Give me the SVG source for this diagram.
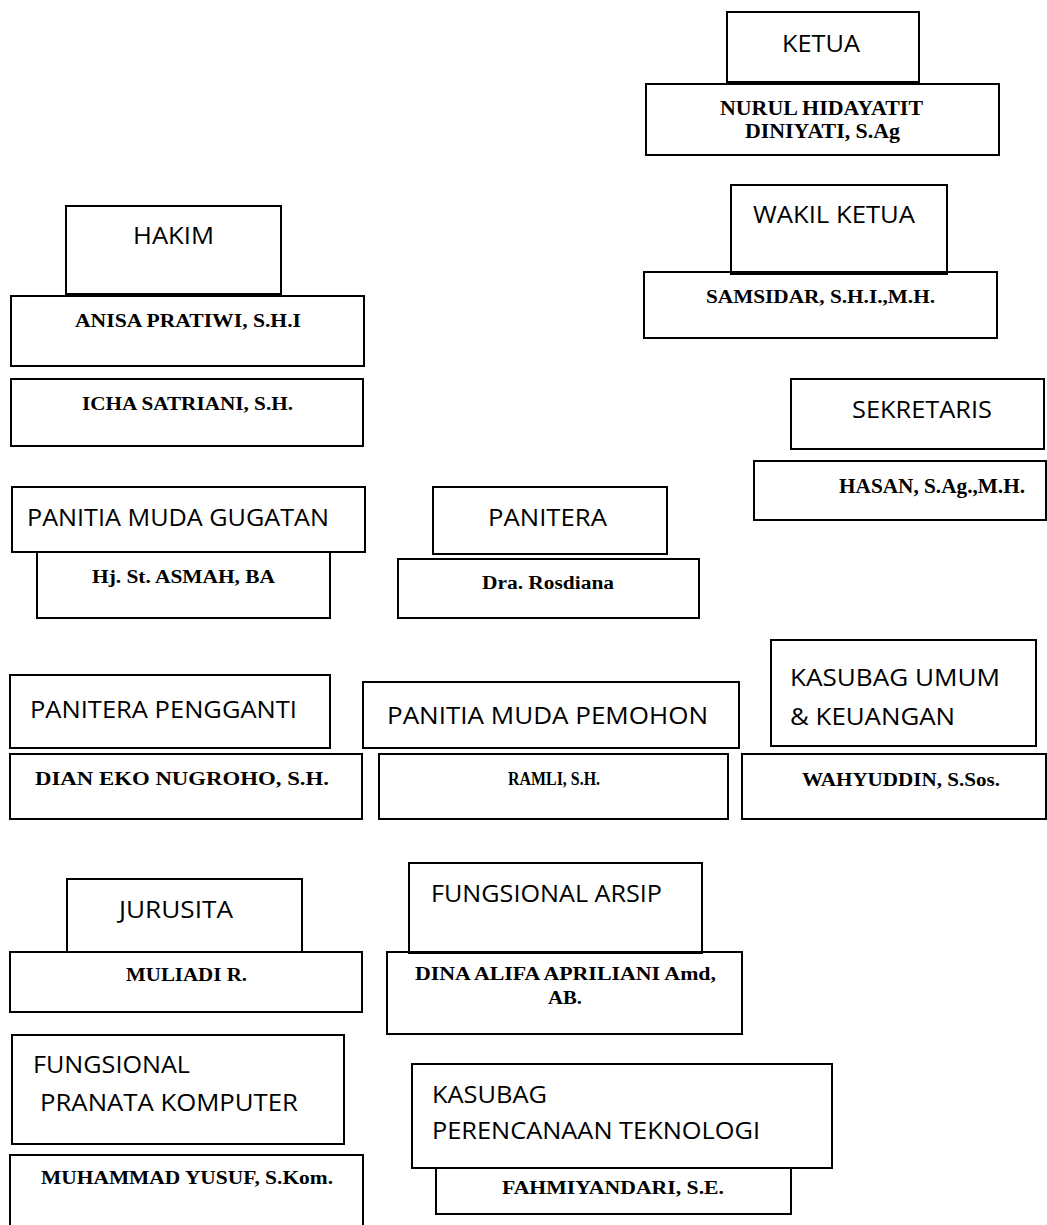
<svg xmlns="http://www.w3.org/2000/svg" width="1047" height="1225" viewBox="0 0 1047 1225">
<style>
.box{fill:none;stroke:#000;stroke-width:2}
.lbl{font-family:"Open Sans","Noto Sans","Liberation Sans",sans-serif;font-size:24px;fill:#000}
.nm{font-family:"Liberation Serif","Times New Roman",serif;font-weight:bold;font-size:18px;fill:#000}
</style>
<rect x="0" y="0" width="1047" height="1225" fill="#fff"/>
<g id="connectors"/>
<g id="ketua"><rect class="box" x="727" y="12" width="192" height="70"/><text class="lbl" x="782" y="52" textLength="78" lengthAdjust="spacingAndGlyphs">KETUA</text></g>
<g id="ketua-name"><rect class="box" x="646" y="84" width="353" height="71"/><text class="nm" style="font-size:20px" x="720" y="115" textLength="203" lengthAdjust="spacingAndGlyphs">NURUL HIDAYATIT</text><text class="nm" style="font-size:20px" x="745" y="138" textLength="155" lengthAdjust="spacingAndGlyphs">DINIYATI, S.Ag</text></g>
<g id="wakil"><rect class="box" x="731" y="185" width="216" height="89"/><text class="lbl" x="753" y="223" textLength="162" lengthAdjust="spacingAndGlyphs">WAKIL KETUA</text></g>
<g id="wakil-name"><rect class="box" x="644" y="272" width="353" height="66"/><text class="nm" style="font-size:19px" x="706" y="303" textLength="229" lengthAdjust="spacingAndGlyphs">SAMSIDAR, S.H.I.,M.H.</text></g>
<g id="hakim"><rect class="box" x="66" y="206" width="215" height="88"/><text class="lbl" x="133" y="244" textLength="81" lengthAdjust="spacingAndGlyphs">HAKIM</text></g>
<g id="hakim-name1"><rect class="box" x="11" y="296" width="353" height="70"/><text class="nm" x="75" y="327" textLength="226" lengthAdjust="spacingAndGlyphs">ANISA PRATIWI, S.H.I</text></g>
<g id="hakim-name2"><rect class="box" x="11" y="379" width="352" height="67"/><text class="nm" x="82" y="410" textLength="211" lengthAdjust="spacingAndGlyphs">ICHA SATRIANI, S.H.</text></g>
<g id="sekretaris"><rect class="box" x="791" y="379" width="253" height="70"/><text class="lbl" x="852" y="418" textLength="140" lengthAdjust="spacingAndGlyphs">SEKRETARIS</text></g>
<g id="sekretaris-name"><rect class="box" x="754" y="461" width="292" height="59"/><text class="nm" style="font-size:20px" x="839" y="493" textLength="186" lengthAdjust="spacingAndGlyphs">HASAN, S.Ag.,M.H.</text></g>
<g id="pm-gugatan"><rect class="box" x="12" y="487" width="353" height="65"/><text class="lbl" x="27" y="526" textLength="302" lengthAdjust="spacingAndGlyphs">PANITIA MUDA GUGATAN</text></g>
<g id="pm-gugatan-name"><rect class="box" x="37" y="552" width="293" height="66"/><text class="nm" x="92" y="583" textLength="183" lengthAdjust="spacingAndGlyphs">Hj. St. ASMAH, BA</text></g>
<g id="panitera"><rect class="box" x="433" y="487" width="234" height="67"/><text class="lbl" x="488" y="526" textLength="119" lengthAdjust="spacingAndGlyphs">PANITERA</text></g>
<g id="panitera-name"><rect class="box" x="398" y="559" width="301" height="59"/><text class="nm" x="482" y="589" textLength="132" lengthAdjust="spacingAndGlyphs">Dra. Rosdiana</text></g>
<g id="pp"><rect class="box" x="10" y="675" width="320" height="73"/><text class="lbl" x="30" y="718" textLength="267" lengthAdjust="spacingAndGlyphs">PANITERA PENGGANTI</text></g>
<g id="pp-name"><rect class="box" x="10" y="754" width="352" height="65"/><text class="nm" x="35" y="785" textLength="294" lengthAdjust="spacingAndGlyphs">DIAN EKO NUGROHO, S.H.</text></g>
<g id="pm-pemohon"><rect class="box" x="363" y="682" width="376" height="66"/><text class="lbl" x="387" y="724" textLength="321" lengthAdjust="spacingAndGlyphs">PANITIA MUDA PEMOHON</text></g>
<g id="pm-pemohon-name"><rect class="box" x="379" y="754" width="349" height="65"/><text class="nm" x="508" y="785" textLength="92" lengthAdjust="spacingAndGlyphs">RAMLI, S.H.</text></g>
<g id="kasubag-umum"><rect class="box" x="771" y="640" width="265" height="106"/><text class="lbl" x="790" y="686" textLength="210" lengthAdjust="spacingAndGlyphs">KASUBAG UMUM</text><text class="lbl" x="790" y="725" textLength="165" lengthAdjust="spacingAndGlyphs">&amp; KEUANGAN</text></g>
<g id="kasubag-umum-name"><rect class="box" x="742" y="754" width="304" height="65"/><text class="nm" x="802" y="786" textLength="198" lengthAdjust="spacingAndGlyphs">WAHYUDDIN, S.Sos.</text></g>
<g id="jurusita"><rect class="box" x="67" y="879" width="235" height="73"/><text class="lbl" x="119" y="918" textLength="114" lengthAdjust="spacingAndGlyphs">JURUSITA</text></g>
<g id="jurusita-name"><rect class="box" x="10" y="952" width="352" height="60"/><text class="nm" x="126" y="981" textLength="121" lengthAdjust="spacingAndGlyphs">MULIADI R.</text></g>
<g id="arsip"><rect class="box" x="409" y="863" width="293" height="90"/><text class="lbl" x="431" y="902" textLength="231" lengthAdjust="spacingAndGlyphs">FUNGSIONAL ARSIP</text></g>
<g id="arsip-name"><rect class="box" x="387" y="952" width="355" height="82"/><text class="nm" x="415" y="980" textLength="301" lengthAdjust="spacingAndGlyphs">DINA ALIFA APRILIANI Amd,</text><text class="nm" x="548" y="1004" textLength="34" lengthAdjust="spacingAndGlyphs">AB.</text></g>
<g id="pranata"><rect class="box" x="12" y="1035" width="332" height="109"/><text class="lbl" x="33" y="1073" textLength="157" lengthAdjust="spacingAndGlyphs">FUNGSIONAL</text><text class="lbl" x="40" y="1111" textLength="258" lengthAdjust="spacingAndGlyphs">PRANATA KOMPUTER</text></g>
<g id="pranata-name"><rect class="box" x="10" y="1155" width="353" height="80"/><text class="nm" x="41" y="1184" textLength="292" lengthAdjust="spacingAndGlyphs">MUHAMMAD YUSUF, S.Kom.</text></g>
<g id="perencanaan"><rect class="box" x="412" y="1064" width="420" height="104"/><text class="lbl" x="432" y="1103" textLength="115" lengthAdjust="spacingAndGlyphs">KASUBAG</text><text class="lbl" x="432" y="1139" textLength="328" lengthAdjust="spacingAndGlyphs">PERENCANAAN TEKNOLOGI</text></g>
<g id="perencanaan-name"><rect class="box" x="436" y="1168" width="355" height="46"/><text class="nm" style="font-size:19px" x="502" y="1194" textLength="222" lengthAdjust="spacingAndGlyphs">FAHMIYANDARI, S.E.</text></g>
</svg>
